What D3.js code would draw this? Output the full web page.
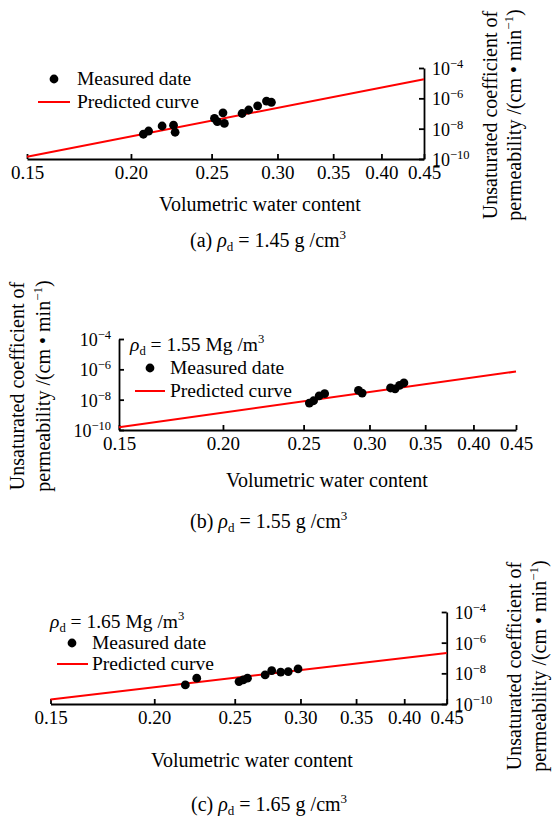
<!DOCTYPE html>
<html>
<head>
<meta charset="utf-8">
<script src="https://cdn.jsdelivr.net/npm/d3@7"></script>
<style>
	body { margin: 0; background: #fff; }
	svg, svg text { font-family: "Times New Roman", "Liberation Serif", serif; }
	svg { display: block; }
	.domain, .tick line { stroke: #000; stroke-width: 1.8; }
</style>
</head>
<body>
<svg id="chart" width="554" height="818"></svg>
<script>
const X_TICKS = [0.15, 0.20, 0.25, 0.30, 0.35, 0.40, 0.45];
const Y_TICKS = [1e-10, 1e-8, 1e-6, 1e-4];
const PRED_THETA = [0.15, 0.45];

// (a) rho_d = 1.45
const THETA_145 = [0.207, 0.210, 0.218, 0.225, 0.226, 0.252, 0.254, 0.258, 0.259, 0.272, 0.277, 0.284, 0.291, 0.295];
const K_145 = [4.3e-9, 7.0e-9, 1.5e-8, 1.7e-8, 5.8e-9, 4.8e-8, 2.9e-8, 1.1e-7, 2.2e-8, 1.0e-7, 1.7e-7, 3.2e-7, 6.6e-7, 5.5e-7];
const PRED_K_145 = [1.4e-10, 1.8e-5];

// (b) rho_d = 1.55
const THETA_155 = [0.254, 0.257, 0.261, 0.265, 0.291, 0.294, 0.318, 0.322, 0.326, 0.330];
const K_155 = [6.0e-9, 8.5e-9, 1.8e-8, 2.5e-8, 4.1e-8, 2.7e-8, 5.9e-8, 5.2e-8, 8.7e-8, 1.26e-7];
const PRED_K_155 = [1.5e-10, 7.2e-7];

// (c) rho_d = 1.65
const THETA_165 = [0.218, 0.225, 0.253, 0.256, 0.259, 0.272, 0.277, 0.284, 0.290, 0.298];
const K_165 = [1.75e-9, 4.8e-9, 2.9e-9, 3.7e-9, 4.8e-9, 7.9e-9, 1.5e-8, 1.2e-8, 1.3e-8, 1.95e-8];
const PRED_K_165 = [2.0e-10, 2.1e-7];

const svg = d3.select('#chart');

// text with a rho_d = ... and a superscript at the end
const rho_text = function(g, x, y, size, prefix, middle, sup) {
	const t = g.append('text').attr('x', x).attr('y', y).attr('font-size', size);
	if (prefix) t.append('tspan').text(prefix);
	t.append('tspan').attr('font-style', 'italic').text('ρ');
	t.append('tspan').attr('font-size', size * 0.65).attr('dy', 4).text('d');
	t.append('tspan').attr('dy', -4).text(' = ' + middle);
	t.append('tspan').attr('font-size', size * 0.65).attr('dy', -8).text(sup);
	return t;
};

const draw_panel = function(p) {
	const g = svg.append('g');
	const x = d3.scaleLog().domain([0.15, 0.45]).range([p.x0, p.x1]);
	const y = d3.scaleLog().domain([1e-10, 1e-4]).range([p.y1, p.y0]);

	// x axis, ticks inward
	const gx = g.append('g').attr('transform', `translate(0,${p.y1})`)
		.call(d3.axisBottom(x).tickValues(X_TICKS).tickSizeInner(-5).tickSizeOuter(0)
			.tickPadding(7).tickFormat(d3.format('.2f')));
	gx.attr('font-family', null).attr('font-size', null);
	gx.selectAll('text').attr('font-size', 19).attr('fill', '#000');

	// y axis, ticks inward, labels 10^n
	const ax_x = p.side === 'right' ? p.x1 : p.x0;
	const y_axis = p.side === 'right' ? d3.axisRight(y) : d3.axisLeft(y);
	const gy = g.append('g').attr('transform', `translate(${ax_x},0)`)
		.call(y_axis.tickValues(Y_TICKS).tickSizeInner(-5).tickSizeOuter(0).tickPadding(8).tickFormat(''));
	gy.attr('font-family', null).attr('font-size', null);
	gy.selectAll('.tick').each(function(d) {
		const t = d3.select(this).select('text')
			.attr('font-size', 18).attr('fill', '#000').attr('dy', '0.36em');
		t.append('tspan').text('10');
		t.append('tspan').attr('font-size', 12.5).attr('dy', -7).text('−' + Math.round(-Math.log10(d)));
	});

	// predicted curve
	const pred = PRED_THETA.map(function(v, i) { return [v, p.pred_k[i]]; });
	g.append('path').datum(pred)
		.attr('d', d3.line().x(function(d) { return x(d[0]); }).y(function(d) { return y(d[1]); }))
		.attr('fill', 'none').attr('stroke', '#ff0000').attr('stroke-width', 2);

	// measured points
	const pts = p.theta.map(function(v, i) { return [v, p.k[i]]; });
	g.selectAll('.pt').data(pts).enter().append('circle')
		.attr('cx', function(d) { return x(d[0]); })
		.attr('cy', function(d) { return y(d[1]); })
		.attr('r', 4.4).attr('fill', '#000');

	// legend
	const L = p.legend;
	if (L.rho) rho_text(g, L.x_rho, L.y_rho, 19.5, '', L.rho, '3');
	g.append('circle').attr('cx', L.x_dot).attr('cy', L.y_dot).attr('r', 4.4).attr('fill', '#000');
	g.append('text').attr('x', L.x_text).attr('y', L.y_dot + 6).attr('font-size', 19.5).text('Measured date');
	g.append('line').attr('x1', L.x_line0).attr('x2', L.x_line1).attr('y1', L.y_line).attr('y2', L.y_line)
		.attr('stroke', '#ff0000').attr('stroke-width', 2);
	g.append('text').attr('x', L.x_text).attr('y', L.y_line + 6).attr('font-size', 19.5).text('Predicted curve');

	// axis titles
	g.append('text').attr('x', p.xt_x).attr('y', p.xt_y).attr('text-anchor', 'middle')
		.attr('font-size', 20).text('Volumetric water content');
	const yl = g.append('g').attr('transform', `translate(0,${p.yt_y})`);
	yl.append('text').attr('transform', `translate(${p.yt_x1},0) rotate(-90)`)
		.attr('text-anchor', 'middle').attr('font-size', 20).text('Unsaturated coefficient of');
	const t2 = yl.append('text').attr('transform', `translate(${p.yt_x2},0) rotate(-90)`)
		.attr('text-anchor', 'middle').attr('font-size', 20);
	t2.append('tspan').text('permeability /(cm • min');
	t2.append('tspan').attr('font-size', 13).attr('dy', -8).text('−1');
	t2.append('tspan').attr('dy', 8).text(')');

	// caption
	rho_text(g, p.cap_x, p.cap_y, 20, '(' + p.tag + ') ', p.cap, '3');
};

draw_panel({
	tag: 'a', x0: 27, x1: 424, y0: 68, y1: 159, side: 'right',
	theta: THETA_145, k: K_145, pred_k: PRED_K_145,
	legend: { x_dot: 54, y_dot: 79, x_text: 77, x_line0: 38, x_line1: 70, y_line: 102 },
	xt_x: 260, xt_y: 211, yt_y: 115, yt_x1: 497, yt_x2: 521,
	cap_x: 190, cap_y: 247, cap: '1.45 g /cm'
});

draw_panel({
	tag: 'b', x0: 119, x1: 516, y0: 339, y1: 430, side: 'left',
	theta: THETA_155, k: K_155, pred_k: PRED_K_155,
	legend: { rho: '1.55 Mg /m', x_rho: 130, y_rho: 351, x_dot: 150, y_dot: 368, x_text: 170, x_line0: 135, x_line1: 165, y_line: 391 },
	xt_x: 327, xt_y: 487, yt_y: 386, yt_x1: 24, yt_x2: 50,
	cap_x: 190, cap_y: 528, cap: '1.55 g /cm'
});

draw_panel({
	tag: 'c', x0: 50.5, x1: 446.7, y0: 612, y1: 704, side: 'right',
	theta: THETA_165, k: K_165, pred_k: PRED_K_165,
	legend: { rho: '1.65 Mg /m', x_rho: 50, y_rho: 628, x_dot: 72, y_dot: 643, x_text: 92, x_line0: 57, x_line1: 88, y_line: 664 },
	xt_x: 252, xt_y: 767, yt_y: 666, yt_x1: 521, yt_x2: 546,
	cap_x: 191, cap_y: 811, cap: '1.65 g /cm'
});
</script>
</body>
</html>
